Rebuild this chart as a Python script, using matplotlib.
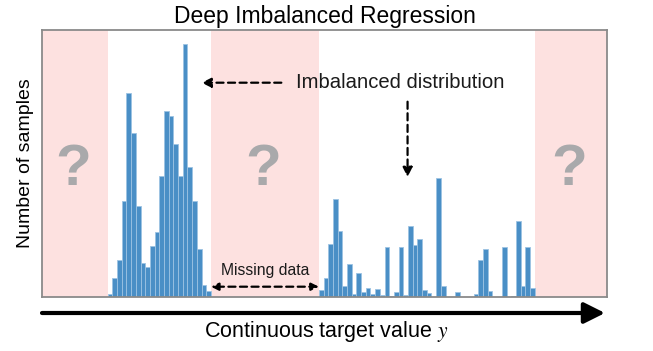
import matplotlib.pyplot as plt
import numpy as np

plt.rcParams['font.family'] = ['Liberation Sans', 'DejaVu Sans']
plt.rcParams['mathtext.fontset'] = 'stix'

# sample counts per bin (arbitrary units)
left_counts = [3, 19, 37, 96, 204, 164, 91, 34, 30, 51, 65,
               121, 186, 181, 153, 121, 253, 130, 96, 48, 12, 6]
right_counts = [7, 19, 53, 98, 66, 11, 33, 3, 24, 5, 9, 3, 8, 2, 50, 1,
                5, 50, 2, 71, 52, 58, 7, 4, 0, 119, 11, 0, 0, 5, 0, 0,
                0, 3, 37, 48, 6, 0, 0, 50, 0, 1, 76, 11, 50, 9]
left_start = 14
right_start = 59
x_max = 120.4
y_max = 267
missing = [(0, 14), (36, 59), (105, x_max)]

bar_color = '#4a8fc6'
pink = '#fde1e0'

fig = plt.figure(figsize=(6.53, 3.51), dpi=100)
ax = fig.add_axes([42/653, 54/351, 565/653, 267/351])

for a, b in missing:
    ax.axvspan(a, b, color=pink, lw=0, zorder=0)
    ax.text((a + b) / 2 - 0.3, 127, '?', ha='center', va='center',
            fontsize=42, fontweight='bold', color='#a9a9ab')

xl = left_start + np.arange(len(left_counts))
xr = right_start + np.arange(len(right_counts))
ax.bar(xl, left_counts, width=1, align='edge', color=bar_color,
       edgecolor='#9cc3e3', linewidth=0.6, zorder=2)
ax.bar(xr, right_counts, width=1, align='edge', color=bar_color,
       edgecolor='#9cc3e3', linewidth=0.6, zorder=2)

ax.set_xlim(0, x_max)
ax.set_ylim(0, y_max)
ax.set_xticks([])
ax.set_yticks([])
for s in ax.spines.values():
    s.set_color('#8a8a8a')
    s.set_linewidth(1.3)

ax.set_title('Deep Imbalanced Regression', fontsize=16.5, pad=5)
ax.set_ylabel('Number of samples', fontsize=14, labelpad=6)

# annotations
dash = dict(arrowstyle='-|>', color='k', lw=1.6, ls=(0, (3.2, 2)),
            mutation_scale=14, shrinkA=0, shrinkB=0)
ax.text(54.2, 214, 'Imbalanced distribution', fontsize=14.6,
        ha='left', va='center', color='#1a1a1a')
ax.annotate('', xy=(34.0, 214.3), xytext=(51.0, 214.3), arrowprops=dash)
ax.annotate('', xy=(77.9, 120), xytext=(77.9, 195.3), arrowprops=dash)

ax.text(47.6, 27, 'Missing data', fontsize=11.3, ha='center', va='center',
        color='#1a1a1a')
dash2 = dict(dash, arrowstyle='<|-|>', mutation_scale=11)
ax.annotate('', xy=(36, 10.3), xytext=(59, 10.3), arrowprops=dash2)

# big axis arrow
fig.add_artist(plt.matplotlib.patches.FancyArrowPatch(
    (42/653, 38/351), (605/653, 38/351), transform=fig.transFigure,
    arrowstyle='-|>,head_length=0.9,head_width=0.45', mutation_scale=14,
    color='k', lw=3, shrinkA=0, shrinkB=0))
fig.text(326/653, 1 - 332/351, 'Continuous target value $y$', fontsize=15.5,
         ha='center', va='center')

fig.savefig('out.png', dpi=100)
